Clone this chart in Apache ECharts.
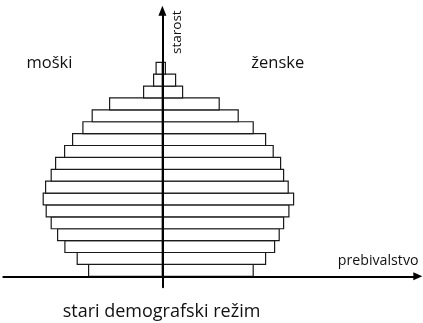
<!DOCTYPE html>
<html>
<head>
<meta charset="utf-8">
<script src="https://cdn.jsdelivr.net/npm/echarts@6/dist/echarts.min.js"></script>
<style>
  html, body { margin: 0; padding: 0; background: #fff; }
  #chart { width: 423px; height: 323px; }
</style>
</head>
<body>
<div id="chart"></div>
<script>
// Age groups (start of each 5-year band) and population per sex
const ageStart = [0, 5, 10, 15, 20, 25, 30, 35, 40, 45, 50, 55, 60, 65, 70, 75, 80, 85];
const male   = [73.8, 85.2, 97.5, 104.8, 111.2, 116.2, 119.2, 116.8, 111.2, 106.8, 97.8, 89.8, 79.5, 70.2, 52.8, 18.8, 8.8, 6.3];
const female = [90.8, 103.2, 112.2, 116.8, 121.2, 126.5, 131.2, 125.8, 121.2, 118.2, 110.8, 103.2, 90.8, 75.8, 56.8, 20.2, 13.2, 3.0];
const bandSize = 5;

const FONT = 'Open Sans';

// one rectangle per age band and sex: [age start, x from, x to]
const rows = [];
ageStart.forEach((a, i) => {
  rows.push([a, -male[i], 0]);
  rows.push([a, 0, female[i]]);
});

const chart = echarts.init(document.getElementById('chart'), null, { renderer: 'canvas' });

chart.setOption({
  animation: false,
  grid: { left: 3.3, top: 10.8, width: 414.5, height: 276.5, containLabel: false },
  xAxis: {
    type: 'value',
    z: 5,
    min: -159.1,
    max: 255.4,
    axisLine: {
      onZero: true,
      symbol: ['none', 'triangle'],
      symbolSize: [8, 9],
      lineStyle: { color: '#000', width: 2 }
    },
    axisTick: { show: false },
    axisLabel: { show: false },
    splitLine: { show: false }
  },
  yAxis: {
    type: 'value',
    z: 5,
    min: -4.63,
    max: 111.65,
    axisLine: {
      onZero: true,
      symbol: ['none', 'triangle'],
      symbolSize: [8, 10],
      lineStyle: { color: '#000', width: 2 }
    },
    axisTick: { show: false },
    axisLabel: { show: false },
    splitLine: { show: false }
  },
  series: [{
    type: 'custom',
    data: rows,
    z: 1,
    renderItem: function (params, api) {
      const a = api.value(0);
      const p0 = api.coord([api.value(1), a + bandSize]);
      const p1 = api.coord([api.value(2), a]);
      return {
        type: 'rect',
        shape: { x: p0[0], y: p0[1], width: p1[0] - p0[0], height: p1[1] - p0[1] },
        style: { fill: '#fff', stroke: '#1a1a1a', lineWidth: 1.2 }
      };
    }
  }],
  graphic: [
    { type: 'text', x: 26.5, y: 54.8, z: 10,
      style: { text: 'moški', font: '16.5px "' + FONT + '"', fill: '#111', textVerticalAlign: 'top' } },
    { type: 'text', x: 251.3, y: 54.8, z: 10,
      style: { text: 'ženske', font: '16.5px "' + FONT + '"', fill: '#111', textVerticalAlign: 'top' } },
    { type: 'text', x: 170.5, y: 54, rotation: Math.PI / 2, z: 10,
      style: { text: 'starost', font: '13.5px "' + FONT + '"', fill: '#111', textVerticalAlign: 'top' } },
    { type: 'text', x: 418.5, y: 254.3, z: 10,
      style: { text: 'prebivalstvo', font: '14.2px "' + FONT + '"', fill: '#111', textAlign: 'right', textVerticalAlign: 'top' } },
    { type: 'text', x: 161.5, y: 302.8, z: 10,
      style: { text: 'stari demografski režim', font: '18px "' + FONT + '"', fill: '#111', textAlign: 'center', textVerticalAlign: 'top' } }
  ]
});
</script>
</body>
</html>
